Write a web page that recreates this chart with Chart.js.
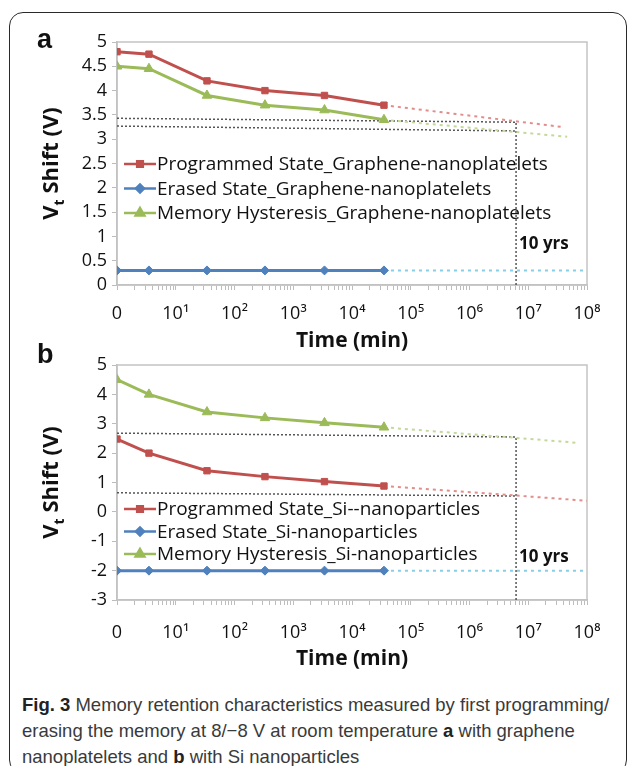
<!DOCTYPE html>
<html>
<head>
<meta charset="utf-8">
<script src="https://cdn.jsdelivr.net/npm/chart.js@4.4.0/dist/chart.umd.min.js"></script>
<style>
  body { margin: 0; background: #fff; width: 629px; height: 766px; overflow: hidden; position: relative; }
  .frame { position: absolute; left: 9px; top: 12px; width: 616px; height: 760px; border: 1.5px solid #2a2a2a; border-radius: 14px; }
  .box { position: absolute; left: 0; width: 629px; }
  #boxA { top: 0; height: 358px; }
  #boxB { top: 320px; height: 352px; }
  .panel { position: absolute; font: bold 27px "Liberation Sans", Arial, sans-serif; color: #111; }
  .caption { position: absolute; left: 22px; top: 692px; width: 600px; font: 18.5px/26px "Liberation Sans", Arial, sans-serif; color: #3a3a3a; white-space: nowrap; }
  .caption b { color: #222; }
</style>
</head>
<body>
<div class="frame"></div>
<div class="box" id="boxA"><canvas id="chartA"></canvas></div>
<div class="box" id="boxB"><canvas id="chartB"></canvas></div>
<div class="panel" style="left:37px;top:24px;">a</div>
<div class="panel" style="left:37px;top:339px;">b</div>
<div class="caption"><b>Fig. 3</b> Memory retention characteristics measured by first programming/<br>erasing the memory at 8/−8 V at room temperature <b>a</b> with graphene<br>nanoplatelets and <b>b</b> with Si nanoparticles</div>

<script>
// measurement times (min); the first point is plotted at the "0" position
const timeMin = [1, 3.5, 34, 330, 3400, 35000];
const tenYears = 6.2e6;
const xTickLabels = ['0', '10¹', '10²', '10³', '10⁴', '10⁵', '10⁶', '10⁷', '10⁸'];

// panel a - graphene nanoplatelets
const labelsA = ['Programmed State_Graphene-nanoplatelets', 'Erased State_Graphene-nanoplatelets', 'Memory Hysteresis_Graphene-nanoplatelets'];
const progA = [4.8, 4.75, 4.2, 4.0, 3.9, 3.7];
const eraseA = [0.3, 0.3, 0.3, 0.3, 0.3, 0.3];
const hystA = [4.5, 4.45, 3.9, 3.7, 3.6, 3.4];
// dotted extrapolations: [start, end] times and values
const progAFitT = [35000, 3.9e7], progAFit = [3.7, 3.25];
const eraseAFitT = [35000, 1e8], eraseAFit = [0.3, 0.3];
const hystAFitT = [35000, 4.6e7], hystAFit = [3.4, 3.05];
// black guide lines to the 10 yrs mark
const guideAUpper = [3.43, 3.35];
const guideALower = [3.27, 3.17];
const guideAVert = [0, 3.35];

// panel b - Si nanoparticles
const labelsB = ['Programmed State_Si--nanoparticles', 'Erased State_Si-nanoparticles', 'Memory Hysteresis_Si-nanoparticles'];
const progB = [2.48, 2.0, 1.4, 1.2, 1.03, 0.88];
const eraseB = [-2, -2, -2, -2, -2, -2];
const hystB = [4.5, 4.0, 3.4, 3.2, 3.03, 2.88];
const progBFitT = [35000, 1e8], progBFit = [0.88, 0.38];
const eraseBFitT = [35000, 1e8], eraseBFit = [-2, -2];
const hystBFitT = [35000, 7e7], hystBFit = [2.88, 2.35];
const guideBUpper = [2.68, 2.55];
const guideBLower = [0.65, 0.54];
const guideBVert = [-3, 2.55];

const RED = '#C0504D', BLUE = '#4F81BD', GREEN = '#9BBB59';
const FONT = '"Open Sans", "Liberation Sans", sans-serif';

function pts(xs, ys) {
    return ys.map((y, i) => ({ x: xs[i], y: y }));
}

function mainSet(label, ys, color, style, radius) {
    return {
        label: label, data: pts(timeMin, ys), borderColor: color, backgroundColor: color,
        borderWidth: 3, pointStyle: style, pointRadius: radius, pointBorderWidth: 1,
        inLegend: true, order: 0
    };
}

function dotted(xs, ys, color, width, dash, order) {
    return {
        data: pts(xs, ys), borderColor: color, borderWidth: width, borderDash: dash,
        pointRadius: 0, order: order
    };
}

// legend drawn inside the plot, plus plot frame, y title with subscript and the 10 yrs note
const extrasPlugin = {
    id: 'extras',
    beforeDatasetsDraw(chart) {
        const a = chart.chartArea, ctx = chart.ctx;
        ctx.save();
        ctx.strokeStyle = '#c4c4c4';
        ctx.lineWidth = 1.5;
        ctx.strokeRect(a.left, a.top, a.right - a.left, a.bottom - a.top);
        ctx.restore();
    },
    afterDraw(chart, args, opts) {
        const ctx = chart.ctx;
        ctx.save();
        // legend
        let row = 0;
        chart.data.datasets.forEach(ds => {
            if (!ds.inLegend) return;
            const y = opts.legendY + row * opts.rowH;
            const x = opts.legendX;
            ctx.strokeStyle = ds.borderColor;
            ctx.lineWidth = 2.5;
            ctx.beginPath();
            ctx.moveTo(x, y);
            ctx.lineTo(x + 32, y);
            ctx.stroke();
            ctx.fillStyle = ds.backgroundColor;
            Chart.helpers.drawPoint(ctx, { pointStyle: ds.pointStyle, radius: ds.pointRadius - 0.5, borderWidth: 1, rotation: 0 }, x + 16, y);
            ctx.fillStyle = '#111';
            ctx.font = '19px ' + FONT;
            ctx.textBaseline = 'middle';
            ctx.textAlign = 'left';
            ctx.fillText(ds.label, x + 33, y + 1);
            row++;
        });
        // 10 yrs
        const xs = chart.scales.x, ys = chart.scales.y;
        ctx.font = 'bold 17px ' + FONT;
        ctx.fillStyle = '#111';
        ctx.textBaseline = 'middle';
        ctx.fillText('10 yrs', xs.getPixelForValue(tenYears) + 3, ys.getPixelForValue(opts.noteY));
        // y title: V_t Shift (V)
        const cy = (chart.chartArea.top + chart.chartArea.bottom) / 2;
        ctx.translate(52, cy);
        ctx.rotate(-Math.PI / 2);
        ctx.font = 'bold 22px ' + FONT;
        const w1 = ctx.measureText('V').width;
        ctx.font = 'bold 14px ' + FONT;
        const w2 = ctx.measureText('t').width;
        ctx.font = 'bold 22px ' + FONT;
        const w3 = ctx.measureText(' Shift (V)').width;
        let tx = -(w1 + w2 + w3) / 2;
        ctx.textAlign = 'left';
        ctx.fillText('V', tx, 0);
        ctx.font = 'bold 14px ' + FONT;
        ctx.fillText('t', tx + w1, 8);
        ctx.font = 'bold 22px ' + FONT;
        ctx.fillText(' Shift (V)', tx + w1 + w2, 0);
        ctx.restore();
    }
};

function makeChart(id, datasets, yMin, yMax, yStep, opts) {
    const canvas = document.getElementById(id);
    return new Chart(canvas, {
        type: 'line',
        data: { datasets: datasets },
        plugins: [extrasPlugin],
        options: {
            responsive: true,
            maintainAspectRatio: false,
            animation: false,
            layout: { padding: { top: opts.top, right: 42, left: 0, bottom: 0 } },
            plugins: {
                legend: { display: false },
                tooltip: { enabled: false },
                extras: opts
            },
            scales: {
                x: {
                    type: 'logarithmic', min: 1, max: 1e8,
                    afterBuildTicks: scale => {
                        const ticks = [];
                        for (let d = 0; d < 8; d++) {
                            for (let m = 1; m < 10; m++) ticks.push({ value: m * Math.pow(10, d) });
                        }
                        ticks.push({ value: 1e8 });
                        scale.ticks = ticks;
                    },
                    afterFit: scale => { scale.height = opts.xHeight; },
                    grid: { drawOnChartArea: false, drawTicks: true, tickLength: 5, color: '#bdbdbd' },
                    border: { color: '#bdbdbd', width: 1.5 },
                    ticks: {
                        autoSkip: false, maxRotation: 0, padding: opts.xPad,
                        color: '#111', font: { family: FONT, size: 18 },
                        callback: function (v) {
                            const e = Math.log10(v);
                            return Math.abs(e - Math.round(e)) < 1e-9 ? xTickLabels[Math.round(e)] : '';
                        }
                    },
                    title: {
                        display: true, text: 'Time (min)', color: '#111',
                        font: { family: FONT, size: 21, weight: 'bold' },
                        padding: { top: 0, bottom: opts.titlePad }
                    }
                },
                y: {
                    min: yMin, max: yMax,
                    afterFit: scale => { scale.width = 117; },
                    grid: { drawOnChartArea: false, drawTicks: true, tickLength: 5, color: '#bdbdbd' },
                    border: { color: '#bdbdbd', width: 1.5 },
                    ticks: {
                        stepSize: yStep, padding: 5, color: '#111', autoSkip: false,
                        font: { family: FONT, size: 18 },
                        callback: v => String(v)
                    }
                }
            }
        }
    });
}

makeChart('chartA', [
    mainSet(labelsA[0], progA, RED, 'rect', 4.5),
    mainSet(labelsA[1], eraseA, BLUE, 'rectRot', 4.5),
    mainSet(labelsA[2], hystA, GREEN, 'triangle', 5.5),
    dotted(progAFitT, progAFit, '#E28D8B', 2, [3, 4], 1),
    dotted(eraseAFitT, eraseAFit, '#86CFE6', 2, [3, 4], 1),
    dotted(hystAFitT, hystAFit, '#C3D99A', 2, [3, 4], 1),
    dotted([1, tenYears], guideAUpper, '#555', 1.5, [2, 2], 2),
    dotted([1, tenYears], guideALower, '#555', 1.5, [2, 2], 2),
    dotted([tenYears, tenYears], guideAVert, '#555', 1.5, [2, 2], 2)
], 0, 5, 0.5, { top: 42, xHeight: 73, xPad: 13, titlePad: 4, legendX: 124, legendY: 164, rowH: 24.5, noteY: 0.85 });

makeChart('chartB', [
    mainSet(labelsB[0], progB, RED, 'rect', 4.5),
    mainSet(labelsB[1], eraseB, BLUE, 'rectRot', 4.5),
    mainSet(labelsB[2], hystB, GREEN, 'triangle', 5.5),
    dotted(progBFitT, progBFit, '#E28D8B', 2, [3, 4], 1),
    dotted(eraseBFitT, eraseBFit, '#86CFE6', 2, [3, 4], 1),
    dotted(hystBFitT, hystBFit, '#C3D99A', 2, [3, 4], 1),
    dotted([1, tenYears], guideBUpper, '#555', 1.5, [2, 2], 2),
    dotted([1, tenYears], guideBLower, '#555', 1.5, [2, 2], 2),
    dotted([tenYears, tenYears], guideBVert, '#555', 1.5, [2, 2], 2)
], -3, 5, 1, { top: 45, xHeight: 72, xPad: 17, titlePad: 0, legendX: 124, legendY: 189, rowH: 22.5, noteY: -1.55 });
</script>
</body>
</html>
